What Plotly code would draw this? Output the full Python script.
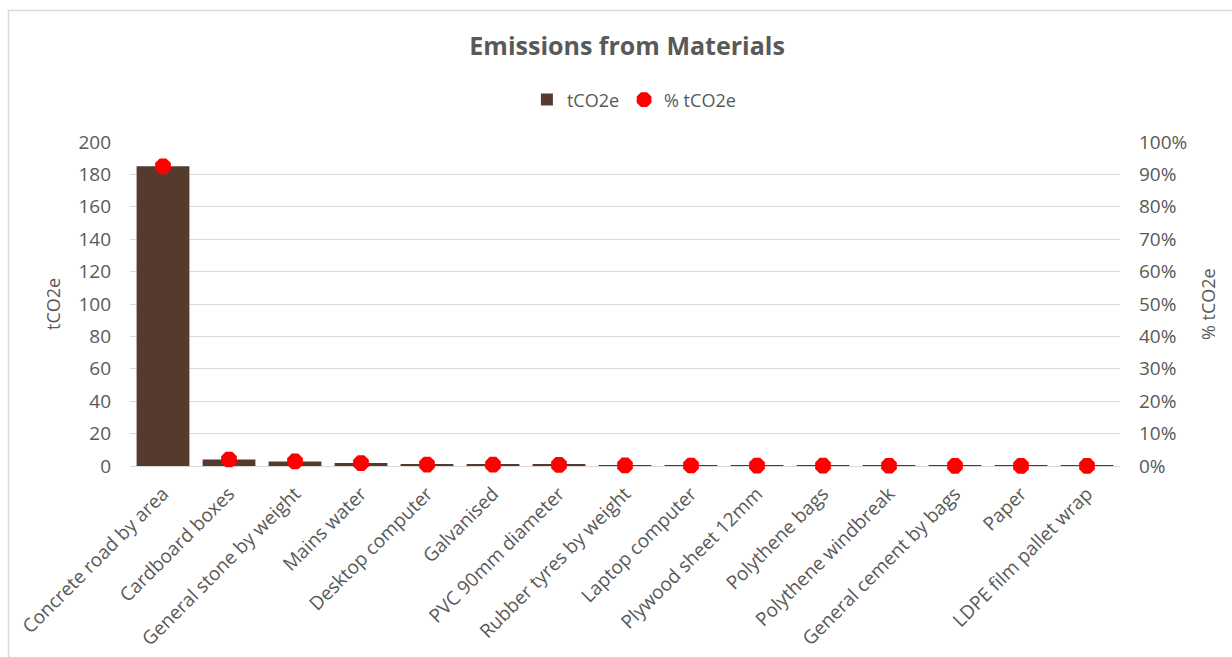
import plotly.graph_objects as go

# Material emissions, tonnes CO2e, and each material's share of the total
materials = [
    "Concrete road by area", "Cardboard boxes", "General stone by weight",
    "Mains water", "Desktop computer", "Galvanised", "PVC 90mm diameter",
    "Rubber tyres by weight", "Laptop computer", "Plywood sheet 12mm",
    "Polythene bags", "Polythene windbreak", "General cement by bags",
    "Paper", "LDPE film pallet wrap",
]
tco2e = [185, 4.0, 2.8, 1.8, 0.9, 0.8, 0.7, 0.35, 0.3, 0.25, 0.2, 0.15, 0.12, 0.08, 0.05]
pct_tco2e = [0.925, 0.02, 0.014, 0.009, 0.0045, 0.004, 0.0035, 0.0017, 0.0015,
             0.0012, 0.001, 0.0008, 0.0006, 0.0004, 0.0003]

left_ticks = list(range(0, 201, 20))
right_ticks = [i / 10 for i in range(0, 11)]

TEXT = "#595959"
GRID = "#d9d9d9"
FONT = "Open Sans"

fig = go.Figure()
fig.add_trace(go.Bar(
    x=materials, y=tco2e, name="tCO2e",
    marker=dict(color="#553b2d", line=dict(width=0)),
    width=0.8,
))
fig.add_trace(go.Scatter(
    x=materials, y=pct_tco2e, name="% tCO2e", yaxis="y2",
    mode="markers", cliponaxis=False,
    marker=dict(symbol="octagon", size=17, color="#ff0000", line=dict(width=0)),
))

fig.update_layout(
    width=1232, height=657,
    margin=dict(l=130, r=112, t=142, b=191, autoexpand=False),
    paper_bgcolor="white", plot_bgcolor="white",
    font=dict(family=FONT, size=18, color=TEXT),
    title=dict(text="<b>Emissions from Materials</b>", x=0.509, xanchor="center",
               y=0.93, yanchor="middle", font=dict(size=25, color=TEXT, family=FONT)),
    legend=dict(orientation="h", x=0.509, xanchor="center", y=1.13, yanchor="middle",
                font=dict(size=18, color=TEXT), itemwidth=30, traceorder="normal"),
    bargap=0.2,
    showlegend=True,
    xaxis=dict(range=[-0.5, len(materials) - 0.5], tickangle=-45, showgrid=False,
               showline=False, ticks="", automargin=False, ticklabelstandoff=12,
               tickfont=dict(size=19, color=TEXT)),
    yaxis=dict(range=[0, 200], tickvals=left_ticks, showgrid=True, gridcolor=GRID,
               gridwidth=1, zeroline=True, zerolinecolor=GRID, zerolinewidth=1,
               showline=False, ticks="", ticklabelstandoff=18, automargin=False,
               tickfont=dict(size=19, color=TEXT)),
    yaxis2=dict(range=[0, 1], tickvals=right_ticks, tickformat=".0%", overlaying="y",
                side="right", showgrid=False, zeroline=False, showline=False, ticks="",
                ticklabelstandoff=18, automargin=False, tickfont=dict(size=19, color=TEXT)),
    annotations=[
        dict(text="tCO2e", xref="paper", yref="paper",
             x=(53 - 130) / 990, y=0.5, textangle=-90, showarrow=False,
             xanchor="center", yanchor="middle", font=dict(size=18, color=TEXT)),
        dict(text="% tCO2e", xref="paper", yref="paper",
             x=(1208 - 130) / 990, y=0.5, textangle=-90, showarrow=False,
             xanchor="center", yanchor="middle", font=dict(size=18, color=TEXT)),
    ],
    shapes=[
        dict(type="rect", xref="paper", yref="paper",
             x0=(8.5 - 130) / 990, x1=(1245 - 130) / 990,
             y0=(466 - 680) / 324, y1=1 + (142 - 10.5) / 324,
             line=dict(color=GRID, width=1.5), fillcolor="rgba(0,0,0,0)", layer="below"),
    ],
)

fig.write_html("out.html")
